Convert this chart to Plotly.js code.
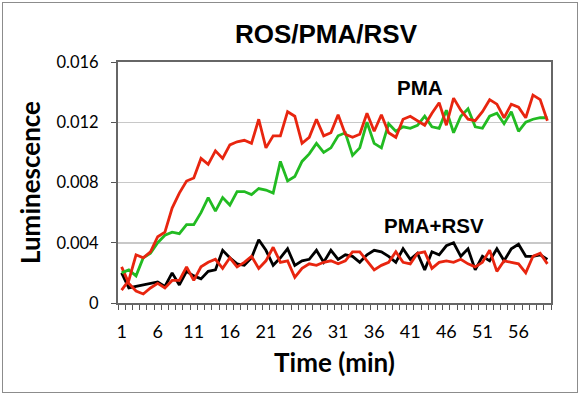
<!DOCTYPE html>
<html>
<head>
<meta charset="utf-8">
<script src="https://cdn.plot.ly/plotly-3.0.1.min.js"></script>
<style>
  html, body { margin: 0; padding: 0; background: #fff; }
  #wrap { position: relative; width: 579px; height: 394px; }
  #chart { position: absolute; left: 0; top: 0; width: 579px; height: 394px; }
  #frame { position: absolute; left: 2px; top: 2px; width: 574px; height: 389px; border: 1px solid #8c8c8c; pointer-events: none; }
</style>
</head>
<body>
<div id="wrap"><div id="chart"></div><div id="frame"></div></div>
<script>
// Time (min), categories 1..60
const minutes = [1,2,3,4,5,6,7,8,9,10,11,12,13,14,15,16,17,18,19,20,
  21,22,23,24,25,26,27,28,29,30,31,32,33,34,35,36,37,38,39,40,
  41,42,43,44,45,46,47,48,49,50,51,52,53,54,55,56,57,58,59,60];

const xTickVals = [1,6,11,16,21,26,31,36,41,46,51,56];
const xTickText = ["1","6","11","16","21","26","31","36","41","46","51","56"];
const yTickVals = [0,0.004,0.008,0.012,0.016];
const yTickText = ["0","0.004","0.008","0.012","0.016"];

// PMA (red, upper)
const pmaRed = [0.00085,0.0015,0.0032,0.0030,0.0034,0.0044,0.0047,0.0063,0.0073,0.0081,
  0.0083,0.0096,0.0092,0.0101,0.0096,0.0105,0.0107,0.0108,0.0106,0.0122,
  0.0103,0.0111,0.0111,0.0127,0.0124,0.0106,0.0110,0.0122,0.0111,0.0113,
  0.0125,0.0112,0.0110,0.0112,0.0126,0.0114,0.0125,0.0113,0.0110,0.0122,
  0.0124,0.0121,0.0118,0.0126,0.0133,0.0118,0.0136,0.0128,0.0122,0.0121,
  0.0127,0.0135,0.0132,0.0123,0.0132,0.0130,0.0123,0.0138,0.0135,0.0121];

// PMA (green, upper)
const pmaGreen = [0.0020,0.0022,0.0018,0.0030,0.0033,0.0040,0.0045,0.0047,0.0046,0.0052,
  0.0052,0.0060,0.0070,0.0061,0.0070,0.0065,0.0074,0.0074,0.0072,0.0076,
  0.0075,0.0073,0.0094,0.0081,0.0084,0.0094,0.0099,0.0106,0.0100,0.0103,
  0.0111,0.0113,0.0098,0.0103,0.0120,0.0106,0.0103,0.0119,0.0114,0.0117,
  0.0116,0.0118,0.0124,0.0117,0.0116,0.0128,0.0113,0.0124,0.0129,0.0117,
  0.0116,0.0124,0.0126,0.0119,0.0127,0.0114,0.0120,0.0122,0.0123,0.0123];

// PMA+RSV (black, lower)
const rsvBlack = [0.0020,0.0010,0.0011,0.0012,0.0013,0.0014,0.0011,0.0020,0.0012,0.0021,
  0.0018,0.0016,0.0021,0.0022,0.0035,0.0030,0.0026,0.0025,0.0030,0.0042,
  0.0035,0.0025,0.0030,0.0036,0.0025,0.0028,0.0029,0.0035,0.0027,0.0035,
  0.0029,0.0032,0.0031,0.0027,0.0032,0.0035,0.0034,0.0031,0.0027,0.0036,
  0.0029,0.0033,0.0022,0.0034,0.0032,0.0038,0.0040,0.0031,0.0036,0.0022,
  0.0031,0.0028,0.0036,0.0028,0.0036,0.0039,0.0031,0.0031,0.0032,0.0029];

// PMA+RSV (red, lower)
const rsvRed = [0.0024,0.0013,0.0008,0.0006,0.0010,0.0013,0.0010,0.0015,0.0015,0.0024,
  0.0015,0.0024,0.0027,0.0029,0.0023,0.0030,0.0024,0.0027,0.0031,0.0023,
  0.0028,0.0037,0.0027,0.0028,0.0017,0.0023,0.0026,0.0025,0.0027,0.0028,
  0.0026,0.0028,0.0034,0.0034,0.0028,0.0022,0.0025,0.0027,0.0034,0.0027,
  0.0026,0.0033,0.0034,0.0023,0.0027,0.0028,0.0027,0.0029,0.0026,0.0024,
  0.0027,0.0035,0.0021,0.0028,0.0027,0.0026,0.0020,0.0031,0.0033,0.0026];

const RED = '#e8250f';
const GREEN = '#22bb22';
const BLACK = '#000000';

function line(y, color, name) {
  return { x: minutes, y: y, type: 'scatter', mode: 'lines', name: name,
    line: { color: color, width: 2.8 }, hoverinfo: 'skip' };
}

const data = [
  line(rsvBlack, BLACK, 'PMA+RSV'),
  line(rsvRed, RED, 'PMA+RSV'),
  line(pmaGreen, GREEN, 'PMA'),
  line(pmaRed, RED, 'PMA')
];

const layout = {
  width: 579, height: 394,
  margin: { l: 118, r: 28, t: 62, b: 91, pad: 0 },
  paper_bgcolor: '#ffffff', plot_bgcolor: '#ffffff',
  showlegend: false,
  title: { text: '<b>ROS/PMA/RSV</b>', x: 0.563, xanchor: 'center', y: 0.914, yanchor: 'middle',
    font: { family: 'Liberation Sans, Arial, sans-serif', size: 26, color: '#000' } },
  xaxis: {
    range: [0.5, 60.5], showgrid: false, zeroline: false,
    tickmode: 'array', tickvals: xTickVals, ticktext: xTickText,
    ticks: '', ticklabelstandoff: 11,
    minor: { tick0: 0.5, dtick: 1, ticks: 'outside', ticklen: 5, tickcolor: '#555', tickwidth: 1, showgrid: false },
    showline: true, linecolor: '#666', linewidth: 2, mirror: true,
    tickfont: { family: 'Lato, Carlito, sans-serif', size: 18, color: '#000' },
    title: { text: '<b>Time (min)</b>', standoff: 13,
      font: { family: 'Lato, Carlito, sans-serif', size: 26, color: '#000' } }
  },
  yaxis: {
    range: [0, 0.016], zeroline: false,
    tickmode: 'array', tickvals: yTickVals, ticktext: yTickText,
    ticks: 'outside', ticklen: 5, tickcolor: '#555', tickwidth: 1, ticklabelstandoff: 9,
    showgrid: true, gridcolor: '#c8c8c8', gridwidth: 1.5,
    showline: true, linecolor: '#666', linewidth: 2, mirror: true,
    tickfont: { family: 'Lato, Carlito, sans-serif', size: 16.5, color: '#000' },
    title: { text: '<b>Luminescence</b>', standoff: 8,
      font: { family: 'Lato, Carlito, sans-serif', size: 26, color: '#000' } }
  },
  annotations: [
    { text: '<b>PMA</b>', xref: 'paper', yref: 'paper', x: 0.6975, y: 0.896, showarrow: false,
      xanchor: 'center', yanchor: 'middle',
      font: { family: 'Liberation Sans, Arial, sans-serif', size: 20.5, color: '#000' } },
    { text: '<b>PMA+RSV</b>', xref: 'paper', yref: 'paper', x: 0.730, y: 0.321, showarrow: false,
      xanchor: 'center', yanchor: 'middle',
      font: { family: 'Liberation Sans, Arial, sans-serif', size: 20.5, color: '#000' } }
  ]
};

Plotly.newPlot('chart', data, layout, { staticPlot: true, displayModeBar: false });
</script>
</body>
</html>
